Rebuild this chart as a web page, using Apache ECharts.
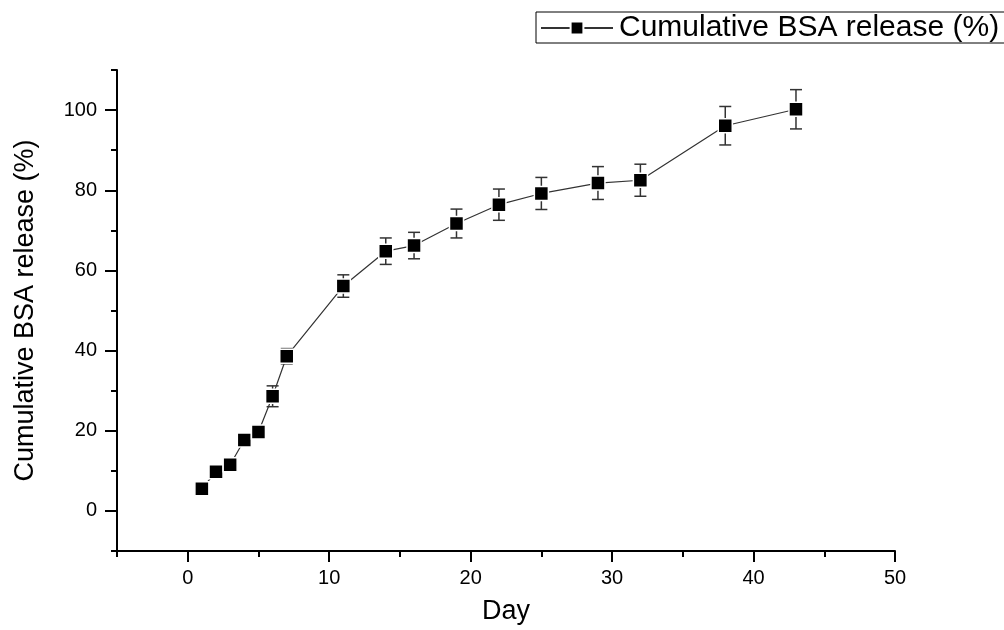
<!DOCTYPE html>
<html>
<head>
<meta charset="utf-8">
<script src="https://cdn.jsdelivr.net/npm/echarts@6/dist/echarts.min.js"></script>
<style>html,body{margin:0;padding:0;background:#fff}#c{width:1004px;height:630px}</style>
</head>
<body>
<div id="c"></div>
<script>
const seriesName = 'Cumulative BSA release (%)';
const days = [1, 2, 3, 4, 5, 6, 7, 11, 14, 16, 19, 22, 25, 29, 32, 38, 43];
const release = [5.5, 9.8, 11.5, 17.7, 19.7, 28.6, 38.6, 56.1, 64.8, 66.2, 71.7, 76.4, 79.2, 81.8, 82.5, 96.1, 100.2];
const errors = [0.8, 0.8, 0.8, 0.8, 0.8, 2.6, 1.9, 2.8, 3.3, 3.3, 3.6, 3.9, 4.0, 4.1, 4.0, 4.8, 4.9];
const xMajorTicks = [0, 10, 20, 30, 40, 50];
const yMajorTicks = [0, 20, 40, 60, 80, 100];

const FONT = '"Liberation Sans", Arial, sans-serif';
const chart = echarts.init(document.getElementById('c'), null, {renderer: 'canvas'});

const lineData = days.map((d, i) => [d, release[i]]);
const errData = days.map((d, i) => [d, release[i], errors[i]]);

chart.setOption({
  animation: false,
  backgroundColor: '#fff',
  grid: {left: 117, top: 70, width: 778, height: 487, containLabel: false},
  legend: {
    data: [seriesName],
    left: 536, top: 12,
    padding: [1, 12, 0, 4],
    itemWidth: 72, itemHeight: 16, itemGap: 0,
    borderColor: '#000', borderWidth: 1, borderRadius: 0,
    textStyle: {fontFamily: FONT, fontSize: 30, lineHeight: 26, color: '#000', padding: [0, 0, 0, 1]}
  },
  xAxis: [{
    type: 'value', min: -5, max: 50, interval: 5,
    name: 'Day', nameLocation: 'middle', nameGap: 47,
    nameTextStyle: {fontFamily: FONT, fontSize: 27, color: '#000'},
    axisLine: {show: true, onZero: false, lineStyle: {color: '#000', width: 2}},
    axisTick: {show: true, length: 6, lineStyle: {color: '#000', width: 2}},
    axisLabel: {customValues: xMajorTicks, margin: 17, fontFamily: FONT, fontSize: 20, color: '#000'},
    splitLine: {show: false}
  }, {
    type: 'value', min: -5, max: 50, position: 'bottom',
    axisLine: {show: false, onZero: false},
    axisTick: {show: true, customValues: xMajorTicks, length: 11, lineStyle: {color: '#000', width: 2}},
    axisLabel: {show: false},
    splitLine: {show: false}
  }],
  yAxis: [{
    type: 'value', min: -10, max: 110, interval: 10,
    name: seriesName, nameLocation: 'middle', nameGap: 78,
    nameTextStyle: {fontFamily: FONT, fontSize: 27, color: '#000'},
    axisLine: {show: true, onZero: false, lineStyle: {color: '#000', width: 2}},
    axisTick: {show: true, length: 6, lineStyle: {color: '#000', width: 2}},
    axisLabel: {customValues: yMajorTicks, margin: 20, fontFamily: FONT, fontSize: 20, color: '#000'},
    splitLine: {show: false}
  }, {
    type: 'value', min: -10, max: 110, position: 'left',
    axisLine: {show: false, onZero: false},
    axisTick: {show: true, customValues: yMajorTicks, length: 12, lineStyle: {color: '#000', width: 2}},
    axisLabel: {show: false},
    splitLine: {show: false}
  }],
  series: [{
    type: 'custom',
    name: 'err',
    xAxisIndex: 0, yAxisIndex: 0,
    data: errData,
    z: 1,
    renderItem: function (params, api) {
      const x = api.value(0), v = api.value(1), e = api.value(2);
      const top = api.coord([x, v + e]);
      const bot = api.coord([x, v - e]);
      const hw = 6;
      const st = {stroke: '#333', lineWidth: 1.5};
      return {
        type: 'group',
        children: [
          {type: 'line', shape: {x1: top[0], y1: top[1], x2: bot[0], y2: bot[1]}, style: st},
          {type: 'line', shape: {x1: top[0] - hw, y1: top[1], x2: top[0] + hw, y2: top[1]}, style: st},
          {type: 'line', shape: {x1: bot[0] - hw, y1: bot[1], x2: bot[0] + hw, y2: bot[1]}, style: st}
        ]
      };
    }
  }, {
    type: 'line',
    name: seriesName,
    xAxisIndex: 0, yAxisIndex: 0,
    data: lineData,
    z: 3,
    symbol: 'rect', symbolSize: 14,
    lineStyle: {color: '#333', width: 1.2},
    itemStyle: {color: '#000', borderColor: '#fff', borderWidth: 1.5},
    emphasis: {disabled: true}
  }]
});
</script>
</body>
</html>
